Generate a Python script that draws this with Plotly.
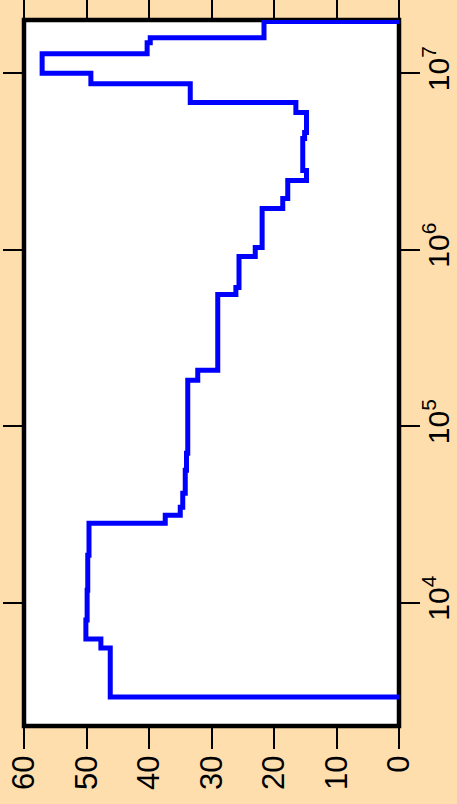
import math
import plotly.graph_objects as go

# Step boundaries (time, log scale) and the level held between consecutive boundaries
boundaries = [2920, 5530, 6220, 7960, 11770, 18570, 28180, 31280, 34730, 41670,
              56230, 70200, 181700, 207000, 557400, 610800, 914800, 1029000,
              1710000, 1948000, 2463000, 2806000, 4258000, 4605000, 5977000,
              6808000, 8719000, 10000000, 12890000, 14880000, 15880000, 19600000]
levels = [46.2, 47.7, 50.1, 49.9, 49.8, 49.6, 37.4, 35.0, 34.6, 34.2,
          34.0, 33.8, 32.2, 29.0, 26.1, 25.6, 23.0, 21.9, 18.6, 17.8,
          14.8, 15.4, 15.1, 14.8, 16.5, 33.4, 49.3, 57.1, 40.3, 39.8, 21.6]

level_ticks = [0, 10, 20, 30, 40, 50, 60]
level_ticktext = ["0", "10", "20", "30", "40", "50", "60"]
time_ticks = [1e4, 1e5, 1e6, 1e7]
time_ticktext = ["10<sup>4</sup>", "10<sup>5</sup>", "10<sup>6</sup>", "10<sup>7</sup>"]
time_range = [2000, 2e7]
level_range = [60, 0]

# Build the closed step outline: start and end at zero
xs = [0]
ys = [boundaries[0]]
for i, v in enumerate(levels):
    xs += [v, v]
    ys += [boundaries[i], boundaries[i + 1]]
xs.append(0)
ys.append(boundaries[-1])

fig = go.Figure()
fig.add_trace(go.Scatter(
    x=xs, y=ys, mode="lines",
    line=dict(color="#0000ff", width=5),
    hoverinfo="skip", showlegend=False,
))

font = "Liberation Sans, Arial, Helvetica, sans-serif"

fig.update_layout(
    width=457, height=804,
    margin=dict(l=24, r=58, t=20, b=78, pad=0, autoexpand=False),
    paper_bgcolor="#ffdead",
    plot_bgcolor="#ffffff",
    showlegend=False,
    shapes=[dict(
        type="rect", xref="x domain", yref="y domain",
        x0=0, x1=1, y0=0, y1=1, layer="below",
        line=dict(color="black", width=4.5), fillcolor="rgba(0,0,0,0)",
    )],
)

fig.update_xaxes(
    range=level_range, tickmode="array", tickvals=level_ticks, ticktext=level_ticktext,
    ticks="outside", ticklen=22, tickwidth=2, tickcolor="black", mirror="ticks",
    tickangle=-90, tickfont=dict(family=font, size=31, color="black"),
    ticklabelstandoff=-6,
    showgrid=False, zeroline=False, showline=False, automargin=False,
)
fig.update_yaxes(
    type="log", range=[math.log10(time_range[0]), math.log10(time_range[1])],
    side="right", tickmode="array", tickvals=time_ticks, ticktext=time_ticktext,
    ticks="outside", ticklen=20, tickwidth=2, tickcolor="black", mirror="ticks",
    tickangle=-90, tickfont=dict(family=font, size=30, color="black"),
    ticklabelstandoff=-7,
    showgrid=False, zeroline=False, showline=False, automargin=False,
)

fig.write_html("out.html")
